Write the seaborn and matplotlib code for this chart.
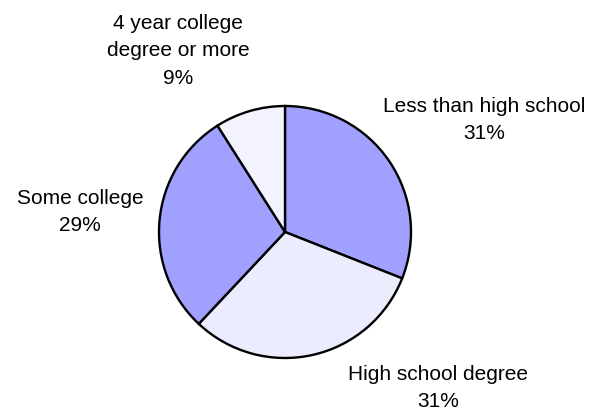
import matplotlib
matplotlib.use("Agg")
import matplotlib.pyplot as plt
import seaborn as sns

categories = ["Less than high school", "High school degree", "Some college",
              "4 year college\ndegree or more"]
shares = [31, 31, 29, 9]
slice_colors = ["#a0a0ff", "#ececff", "#a0a0ff", "#f3f3ff"]

sns.set_theme(style="white")
plt.rcParams["font.family"] = ["Liberation Sans", "DejaVu Sans"]

fig = plt.figure(figsize=(6.03, 4.13), dpi=100)
ax = fig.add_axes([0, 0, 1, 1])

center = (285, 413 - 232)
radius = 126
ax.pie(shares, colors=slice_colors, startangle=90, counterclock=False,
       center=center, radius=radius, frame=True,
       wedgeprops={"edgecolor": "black", "linewidth": 1.7})
ax.set_xlim(0, 603)
ax.set_ylim(0, 413)
ax.set_aspect("equal")
ax.axis("off")

# label block centres (pixels, image coords)
label_pos = [(484, 120), (438, 388), (80, 212), (178, 51)]
for name, share, (x, y) in zip(categories, shares, label_pos):
    ax.text(x, 413 - y, f"{name}\n{share}%", ha="center", va="center",
            fontsize=15, color="black", linespacing=1.55)

fig.savefig("out.png", dpi=100)
